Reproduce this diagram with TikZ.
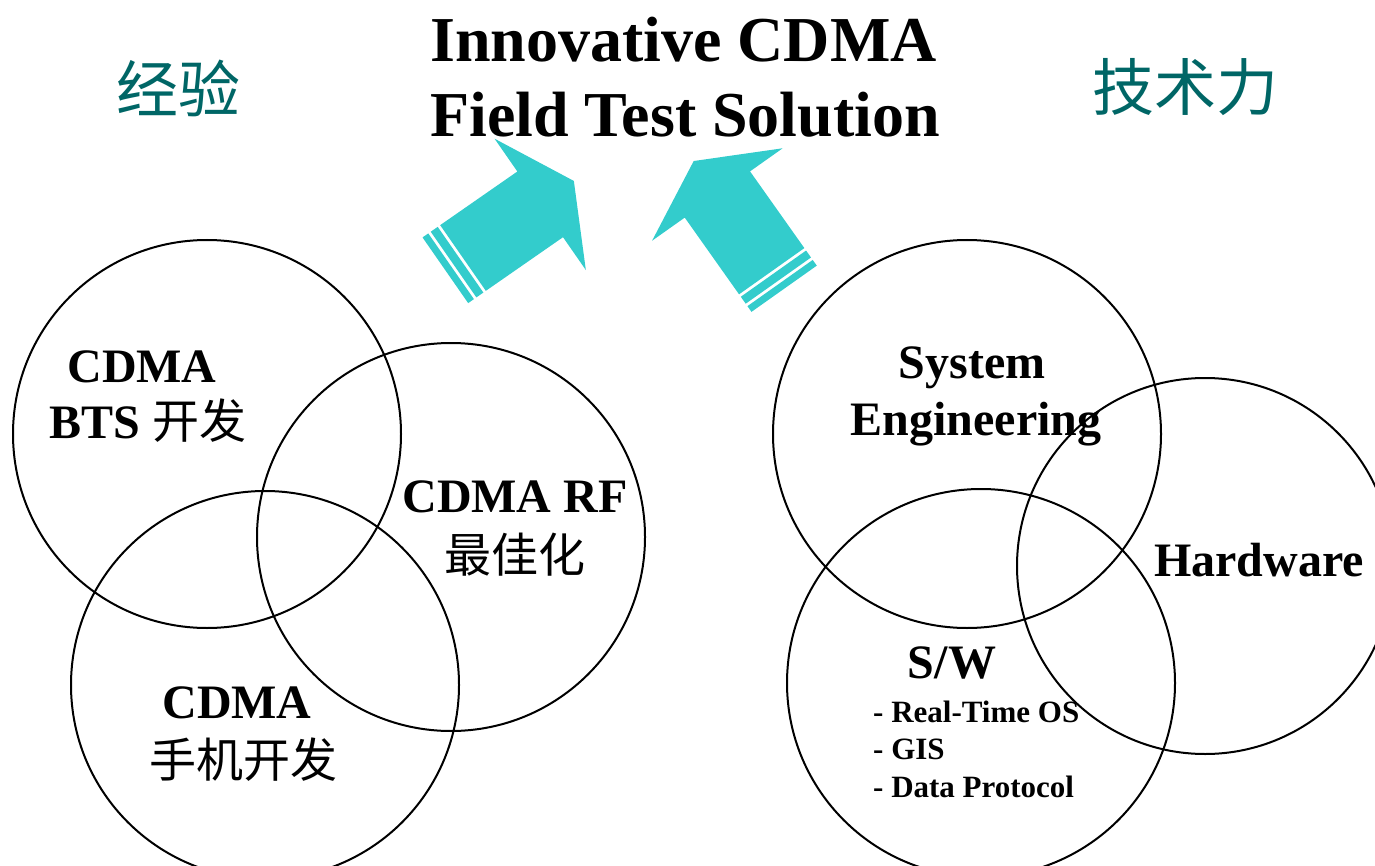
\documentclass[tikz,border=0pt]{standalone}
\usepackage{fontspec}
\setmainfont{Liberation Serif}
\newfontfamily\cjk{Noto Sans CJK SC}
\definecolor{tealtxt}{RGB}{0,102,102}
\definecolor{aquafill}{RGB}{51,204,204}

\begin{document}
\begin{tikzpicture}[x=1pt, y=-1pt,
    ring/.style={circle, draw, line width=2pt, minimum size=388pt, inner sep=0pt},
    headline/.style={font=\fontsize{64}{75}\selectfont\bfseries, inner sep=0pt, anchor=base west},
    biglbl/.style={font=\fontsize{48}{56}\selectfont\bfseries, inner sep=0pt, anchor=base},
    cnlbl/.style={font=\cjk\fontsize{47}{56}\selectfont, inner sep=0pt, anchor=base},
    cnhead/.style={font=\cjk\fontsize{62}{70}\selectfont, text=tealtxt, inner sep=0pt, anchor=base},
    itemlbl/.style={font=\fontsize{31}{37}\selectfont\bfseries, inner sep=0pt, anchor=base west}]
    \useasboundingbox (0,0) rectangle (1375,866);

    % title
    \node[headline] (t1) at (430,62) {Innovative CDMA};
    \node[headline] (t2) at (430,137) {Field Test Solution};
    \node[cnhead] (jy) at (178,113) {经验};
    \node[cnhead] (jsl) at (1185,111) {技术力};

    % arrows
    \begin{scope}[shift={(463,258)}, rotate=34.8]
        \fill[aquafill] (0,-40) -- (94,-40) -- (94,-80) -- (135,0) -- (94,80) -- (94,40) -- (0,40) -- cycle;
        \fill[aquafill] (-3,-40) rectangle (-11.5,40);
        \fill[aquafill] (-14.5,-40) rectangle (-21.5,40);
    \end{scope}
    \begin{scope}[shift={(771.7,271.2)}, rotate=125.3]
        \fill[aquafill] (0,-40) -- (94,-40) -- (94,-80) -- (135,0) -- (94,80) -- (94,40) -- (0,40) -- cycle;
        \fill[aquafill] (-3,-40) rectangle (-11.5,40);
        \fill[aquafill] (-14.5,-40) rectangle (-21.5,40);
    \end{scope}

    % left group
    \node[ring] (bts) at (207,434) {};
    \node[ring] (rf) at (451,537) {};
    \node[ring] (hs) at (265,685) {};
    \node[biglbl] (bts1) at (142,382) {CDMA};
    \node[biglbl] (bts2) at (148,438) {BTS {\cjk\mdseries\fontsize{47}{56}\selectfont 开发}};
    \node[biglbl] (rf1) at (515,512) {CDMA RF};
    \node[cnlbl] (rf2) at (515,572) {最佳化};
    \node[biglbl] (hs1) at (237,718) {CDMA};
    \node[cnlbl] (hs2) at (243,777) {手机开发};

    % right group
    \node[ring] (se) at (967,434) {};
    \node[ring, minimum size=376pt] (hw) at (1205,566) {};
    \node[ring] (sw) at (981,683) {};
    \node[biglbl] (se1) at (972,378) {System};
    \node[biglbl] (se2) at (976,435) {Engineering};
    \node[biglbl] (hw1) at (1259,576) {Hardware};
    \node[biglbl] (sw1) at (952,678) {S/W};
    \node[itemlbl] (sw2) at (873,722) {- Real-Time OS};
    \node[itemlbl] (sw3) at (873,759) {- GIS};
    \node[itemlbl] (sw4) at (873,797) {- Data Protocol};
\end{tikzpicture}
\end{document}
